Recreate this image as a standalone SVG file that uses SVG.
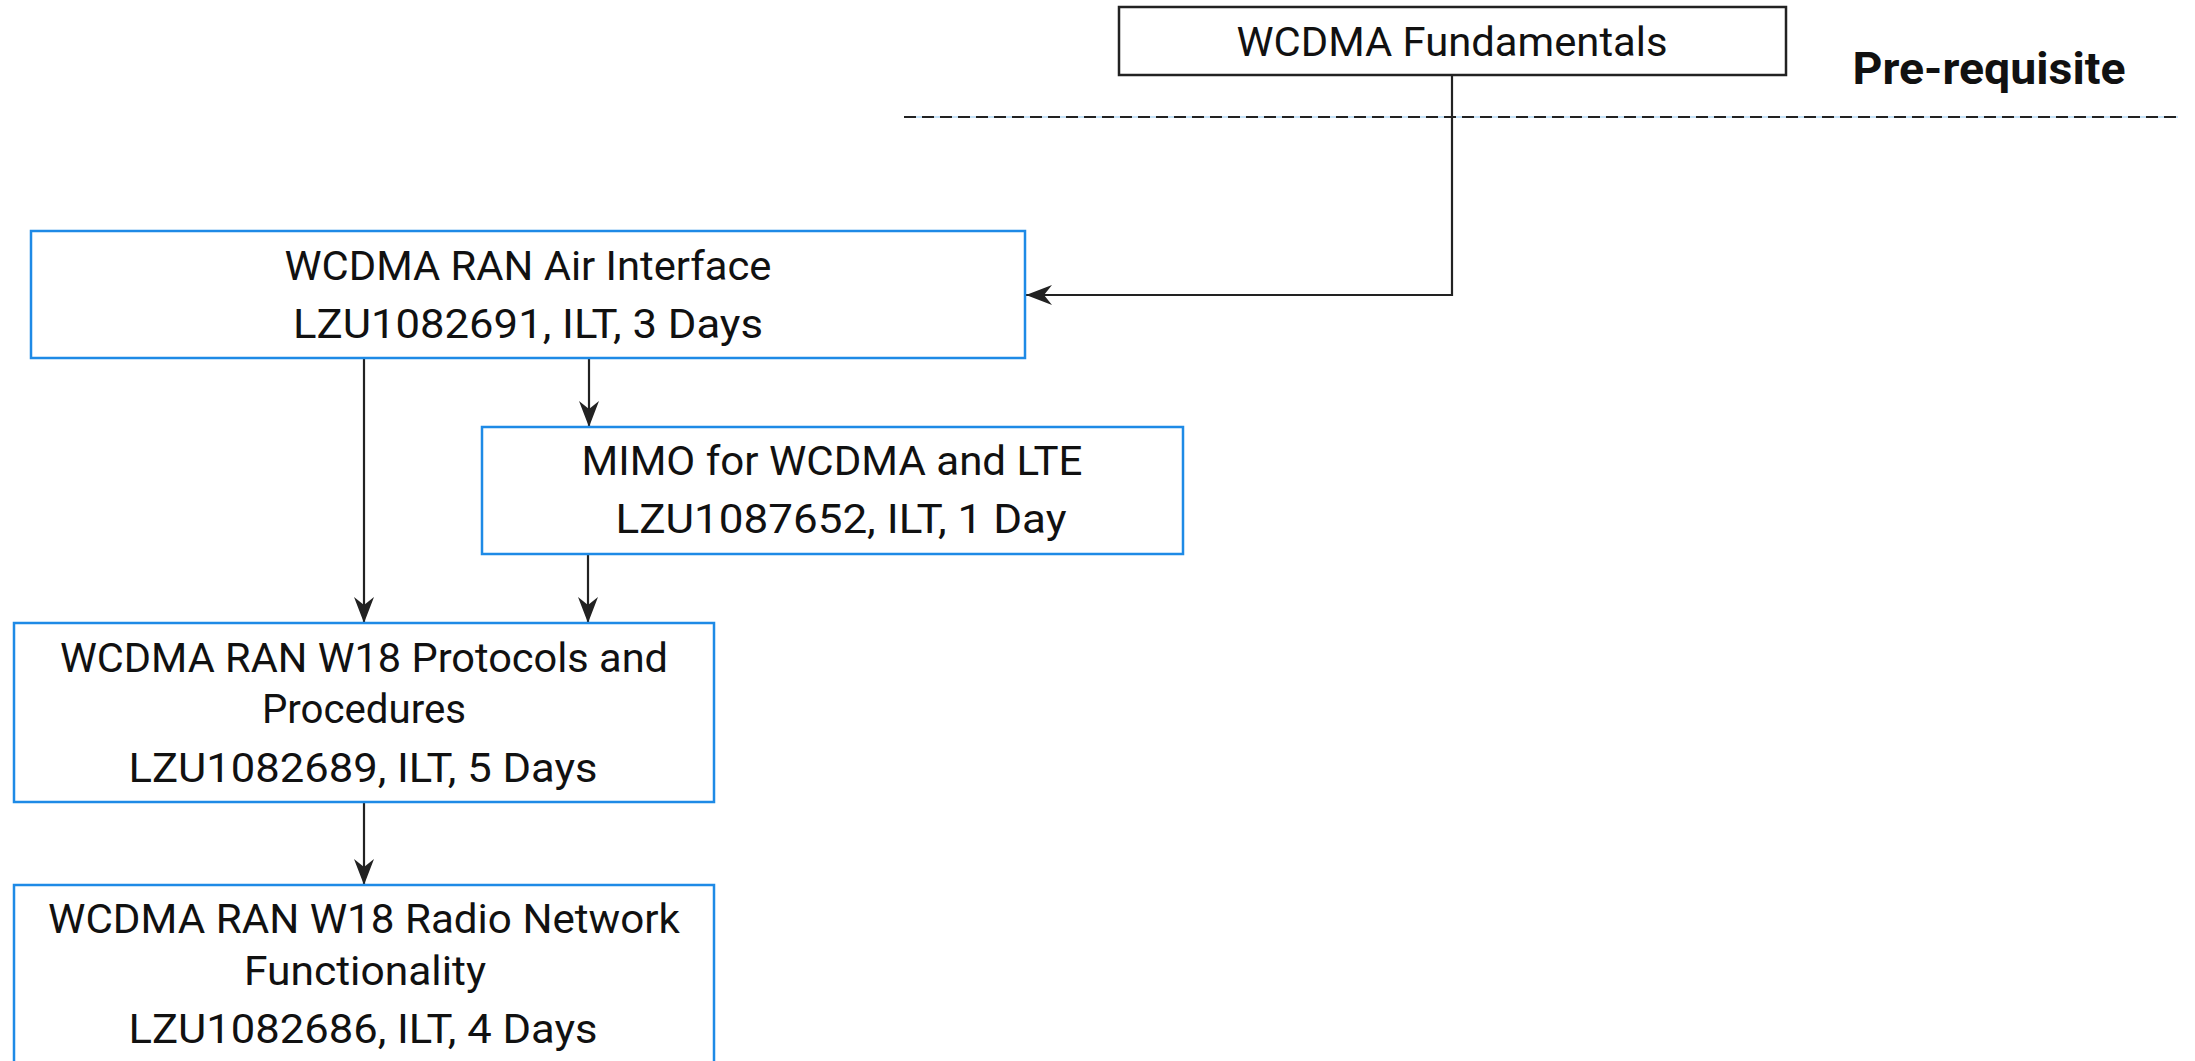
<svg xmlns="http://www.w3.org/2000/svg" width="2195" height="1061" viewBox="0 0 2195 1061">
<style>
.bx{fill:#fff;stroke:#1e8ae6;stroke-width:2.5}
.bk{fill:#fff;stroke:#222;stroke-width:2.5}
.t{font-family:Roboto,"Liberation Sans",sans-serif;font-size:41px;fill:#111;text-anchor:middle}
.b{font-family:Roboto,"Liberation Sans",sans-serif;font-size:44px;font-weight:bold;fill:#111;text-anchor:middle}
.c{fill:none;stroke:#222;stroke-width:2.2}
</style>
<defs>
<marker id="ah" markerUnits="userSpaceOnUse" viewBox="0 0 26 20" markerWidth="26" markerHeight="20" refX="26" refY="10" orient="auto">
<path d="M0,0 L26,10 L0,20 L8,10 Z" fill="#222"/>
</marker>
</defs>
<g id="divider">
<line x1="904" y1="117" x2="2178" y2="117" stroke="#8cc4f0" stroke-width="1"/>
<line x1="904" y1="117" x2="2178" y2="117" stroke="#222" stroke-width="2" stroke-dasharray="12 6"/>
<text class="b" x="1989" y="84" textLength="273" lengthAdjust="spacingAndGlyphs">Pre-requisite</text>
</g>
<g id="connectors">
<path class="c" d="M1452,75 V295 H1026" marker-end="url(#ah)"/>
<path class="c" d="M589,358 V427" marker-end="url(#ah)"/>
<path class="c" d="M364,358 V623" marker-end="url(#ah)"/>
<path class="c" d="M588,554 V623" marker-end="url(#ah)"/>
<path class="c" d="M364,802 V885" marker-end="url(#ah)"/>
</g>
<g id="fundamentals">
<rect class="bk" x="1119" y="7" width="667" height="68"/>
<text class="t" x="1452" y="56" textLength="431" lengthAdjust="spacingAndGlyphs">WCDMA Fundamentals</text>
</g>
<g id="air-interface">
<rect class="bx" x="31" y="231" width="994" height="127"/>
<text class="t" x="528" y="280" textLength="487" lengthAdjust="spacingAndGlyphs">WCDMA RAN Air Interface</text>
<text class="t" x="528" y="338" textLength="470" lengthAdjust="spacingAndGlyphs">LZU1082691, ILT, 3 Days</text>
</g>
<g id="mimo">
<rect class="bx" x="482" y="427" width="701" height="127"/>
<text class="t" x="832" y="475" textLength="501" lengthAdjust="spacingAndGlyphs">MIMO for WCDMA and LTE</text>
<text class="t" x="841" y="533" textLength="451" lengthAdjust="spacingAndGlyphs">LZU1087652, ILT, 1 Day</text>
</g>
<g id="protocols">
<rect class="bx" x="14" y="623" width="700" height="179"/>
<text class="t" x="364" y="672" textLength="608" lengthAdjust="spacingAndGlyphs">WCDMA RAN W18 Protocols and</text>
<text class="t" x="364" y="723" textLength="204" lengthAdjust="spacingAndGlyphs">Procedures</text>
<text class="t" x="363" y="782" textLength="469" lengthAdjust="spacingAndGlyphs">LZU1082689, ILT, 5 Days</text>
</g>
<g id="radio-network">
<rect class="bx" x="14" y="885" width="700" height="190"/>
<text class="t" x="364" y="933" textLength="632" lengthAdjust="spacingAndGlyphs">WCDMA RAN W18 Radio Network</text>
<text class="t" x="365" y="985" textLength="242" lengthAdjust="spacingAndGlyphs">Functionality</text>
<text class="t" x="363" y="1043" textLength="469" lengthAdjust="spacingAndGlyphs">LZU1082686, ILT, 4 Days</text>
</g>
</svg>
